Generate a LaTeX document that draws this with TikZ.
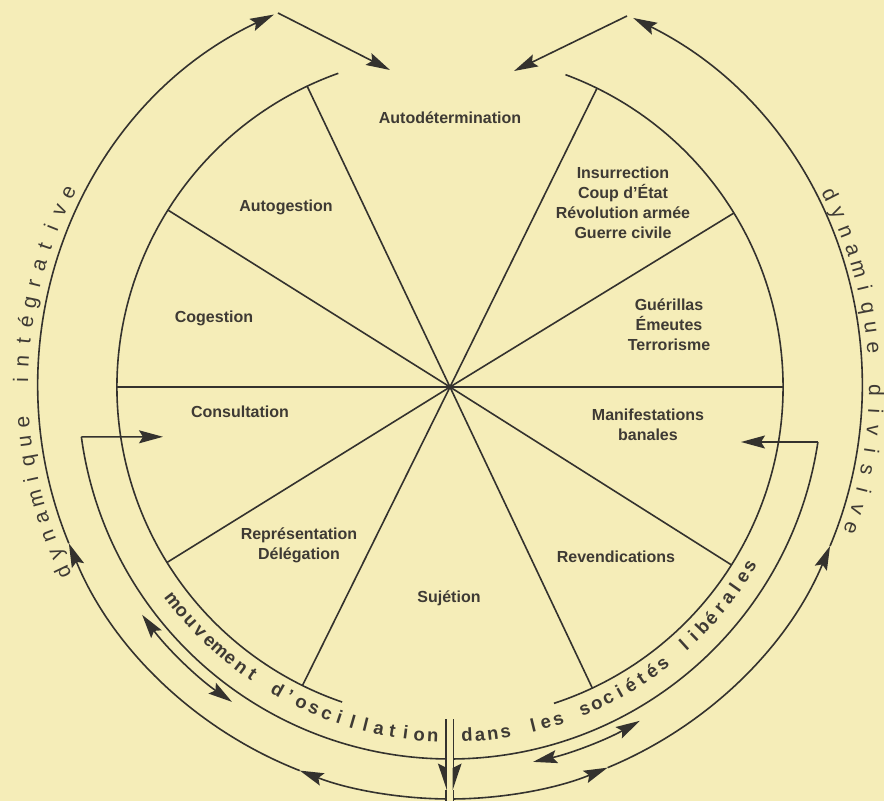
\documentclass[tikz,border=0pt]{standalone}
\usepackage{fontspec}
\setmainfont{Liberation Sans}
\usetikzlibrary{arrows.meta}
\definecolor{bg}{RGB}{245,237,184}
\definecolor{ink}{RGB}{52,50,46}
\definecolor{txtc}{RGB}{62,58,52}
\newlength\chwd
\newcommand\spc{\hspace*{0.278em}}
\newcommand\sidefont{\fontsize{21}{24}\selectfont}
\newcommand\botfont{\fontsize{18.5}{22}\selectfont\bfseries}
% #1 baseline radius, #2 angle of first char centre, #3 angle of last char centre, #4 font, #5 list
\newcommand\arctext[5]{%
  \gdef\atw{0}\gdef\atn{0}%
  \foreach \ch [count=\k] in {#5}{%
    \settowidth\chwd{#4\ch}%
    \pgfmathsetmacro\tmp{\atw+\chwd}%
    \xdef\atw{\tmp}\xdef\atn{\k}%
    \pgfmathsetmacro\tmpw{\chwd}%
    \ifnum\k=1 \xdef\atfirst{\tmpw}\fi
    \xdef\atlast{\tmpw}%
  }%
  \pgfmathsetmacro\atavg{\atw/\atn}%
  \pgfmathsetmacro\atfe{(\atfirst+\atavg)/2}%
  \pgfmathsetmacro\atle{(\atlast+\atavg)/2}%
  \pgfmathsetmacro\atdir{sign(#3-#2)}%
  \pgfmathsetmacro\atspan{abs(#3-#2)/57.29578*#1}%
  \pgfmathsetmacro\attrk{(\atspan - (\atw - \atfe/2 - \atle/2))/(\atn-1)}%
  \pgfmathsetmacro\atleft{#2 - \atdir*(\atfe/2)/#1*57.29578}%
  \xdef\atcur{\atleft}%
  \foreach \ch in {#5}{%
    \settowidth\chwd{#4\ch}%
    \pgfmathsetmacro\atwe{(\chwd+\atavg)/2}%
    \pgfmathsetmacro\atmid{\atcur + \atdir*(\atwe/2)/#1*57.29578}%
    \pgfmathsetmacro\atrot{\atmid + \atdir*90}%
    \node[anchor=base, inner sep=0pt, outer sep=0pt, rotate=\atrot, text=txtc] at (\atmid:#1) {#4\ch};%
    \pgfmathsetmacro\tmp{\atcur + \atdir*(\atwe + \attrk)/#1*57.29578}%
    \xdef\atcur{\tmp}%
  }%
}
\tikzset{
  lbl/.style={font=\fontsize{16}{20}\selectfont\bfseries, text=txtc, align=center, inner sep=0pt},
  tipA/.tip={Stealth[length=24pt,width=13pt,inset=4pt]},
  arr/.style={-tipA},
  arrtwo/.style={tipA-tipA},
  harpE/.style={-{Stealth[length=24pt,width=16pt,inset=4pt,harpoon]}},
  harpW/.style={-{Stealth[length=24pt,width=16pt,inset=4pt,harpoon,swap]}},
}
\begin{document}
\begin{tikzpicture}[x=1pt,y=1pt,color=ink,line width=1.6pt]
\fill[bg] (-450,-414) rectangle (434,387);
\useasboundingbox (-450,-414) rectangle (434,387);
\coordinate (O) at (0,0);
% radial lines
\foreach \a in {0,31.5,63.8,115.4,147.9,180,211.8,243.7,295.3,327.7}
  \draw (O) -- (\a:333);
% inner circle (two arcs)
\draw (109.6:333) arc[start angle=109.6, end angle=251.1, radius=333];
\draw (-71.8:333) arc[start angle=-71.8, end angle=69.7, radius=333];
% oscillation arcs
\coordinate (oscL) at (187.7:372);
\coordinate (oscR) at (-8.5:372);
\coordinate (tipL) at (-287,-49.8);
\coordinate (tipR) at (291,-55);
\draw (oscL) arc[start angle=187.7, end angle=269.4, radius=372];
\draw (oscR) arc[start angle=-8.5, end angle=-89.5, radius=372];
\draw[arr] (oscL) -- (tipL);
\draw[arr] (oscR) -- (tipR);
% vertical double line
\coordinate (vLt) at (-4,-332); \coordinate (vLm) at (-4,-403); \coordinate (vLb) at (-4,-414);
\coordinate (vRt) at (3.5,-332); \coordinate (vRm) at (3.5,-403); \coordinate (vRb) at (3.5,-414);
\draw[harpW] (vLt) -- (vLm); \draw (vLm) -- (vLb);
\draw[harpE] (vRt) -- (vRm); \draw (vRm) -- (vRb);
% outer arcs
\draw[arr] (269.4:412) arc[start angle=269.4, end angle=248.6, radius=412];
\draw[arr] (248.6:412) arc[start angle=248.6, end angle=202.3, radius=412];
\draw[arr] (202.3:412) arc[start angle=202.3, end angle=115.3, radius=412];
\draw[arr] (-89.5:412) arc[start angle=-89.5, end angle=-67.5, radius=412];
\draw[arr] (-67.5:412) arc[start angle=-67.5, end angle=-22.7, radius=412];
\draw[arr] (-22.7:412) arc[start angle=-22.7, end angle=63.6, radius=412];
% top arrows
\coordinate (tLs) at (-172,374); \coordinate (tLe) at (-60,317);
\coordinate (tRs) at (177,371); \coordinate (tRe) at (64,316);
\draw[arr] (tLs) -- (tLe);
\draw[arr] (tRs) -- (tRe);
% double arrows
\draw[arrtwo] (216.5:383) arc[start angle=216.5, end angle=235.3, radius=383];
\draw[arrtwo] (-77.5:384) arc[start angle=-77.5, end angle=-60.4, radius=384];
% labels
\node[lbl] (autodet) at (0,269) {Autodétermination};
\node[lbl] (autog) at (-164,180) {Autogestion};
\node[lbl] (coge) at (-236,69) {Cogestion};
\node[lbl] (insur) at (173,184) {Insurrection\\Coup d'État\\Révolution armée\\Guerre civile};
\node[lbl] (guer) at (219,62) {Guérillas\\Émeutes\\Terrorisme};
\node[lbl] (consu) at (-210,-25) {Consultation};
\node[lbl] (repr) at (-151,-158) {Représentation\\Délégation};
\node[lbl] (suj) at (-1,-211) {Sujétion};
\node[lbl] (mani) at (198,-38) {Manifestations\\banales};
\node[lbl] (reven) at (166,-170) {Revendications};
% arc texts
\arctext{422}{205.6}{153}{\sidefont}{d,y,n,a,m,i,q,u,e,\spc,i,n,t,é,g,r,a,t,i,v,e}
\arctext{419}{26.9}{-19.4}{\sidefont}{d,y,n,a,m,i,q,u,e,\spc,d,i,v,i,s,i,v,e}
\arctext{355}{217.6}{267.2}{\botfont}{m,o,u,v,e,m,e,n,t,\spc,d,',o,s,c,i,l,l,a,t,i,o,n}
\arctext{355}{272.8}{329.1}{\botfont}{d,a,n,s,\spc,l,e,s,\spc,s,o,c,i,é,t,é,s,\spc,l,i,b,é,r,a,l,e,s}
\end{tikzpicture}
\end{document}
